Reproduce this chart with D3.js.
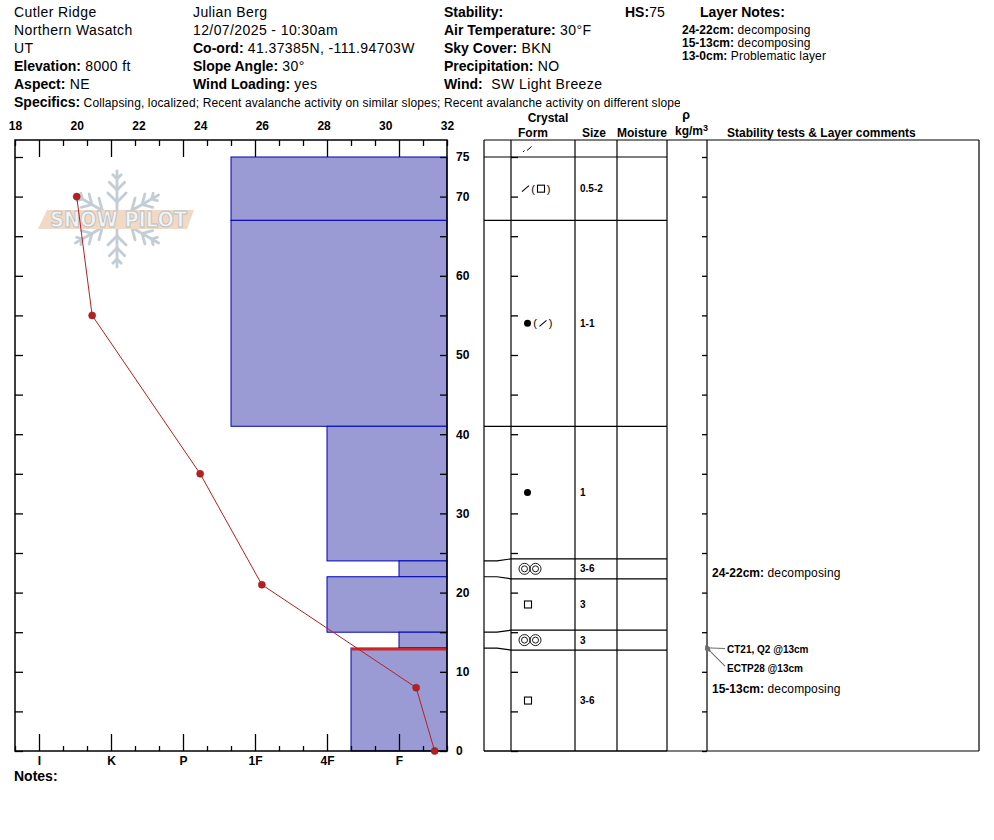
<!DOCTYPE html>
<html>
<head>
<meta charset="utf-8">
<script src="https://cdn.jsdelivr.net/npm/d3@7"></script>
<style>
body { margin: 0; background: #fff; }
svg { font-family: "Liberation Sans", Arial, sans-serif; }
</style>
</head>
<body>
<script>
// ---- data ----
const siteLines = ["Cutler Ridge", "Northern Wasatch", "UT"]
const siteFields = [["Elevation:", " 8000 ft"], ["Aspect:", " NE"]]
const obsLines = ["Julian Berg", "12/07/2025 - 10:30am"]
const obsFields = [["Co-ord:", " 41.37385N, -111.94703W"], ["Slope Angle:", " 30°"], ["Wind Loading:", " yes"]]
const wxFields = [["Stability:", ""], ["Air Temperature:", " 30°F"], ["Sky Cover:", " BKN"], ["Precipitation:", " NO"], ["Wind:", "  SW Light Breeze"]]
const snowHeight = 75
const layerNoteLabels = ["24-22cm:", "15-13cm:", "13-0cm:"]
const layerNoteTexts = [" decomposing", " decomposing", " Problematic layer"]
const specifics = "Collapsing, localized; Recent avalanche activity on similar slopes; Recent avalanche activity on different slopes"

const tempTicks = [18, 20, 22, 24, 26, 28, 30, 32]
const depthLabels = [0, 10, 20, 30, 40, 50, 60, 70, 75]
const hardnessGrades = ["F-", "F", "F+", "4F-", "4F", "4F+", "1F-", "1F", "1F+", "P-", "P", "P+", "K-", "K", "K+", "I-", "I", "I+"]
const hardnessLabels = ["F", "4F", "1F", "P", "K", "I"]

const tempDepth = [70, 55, 35, 21, 8, 0]
const tempValue = [20, 20.5, 24, 26, 31, 31.6]

const layerTop = [75, 67, 41, 24, 22, 15, 13]
const layerBottom = [67, 41, 24, 22, 15, 13, 0]
const layerHardness = ["1F+", "1F+", "4F", "F", "4F", "F", "4F-"]
const layerForm = ["DF", "RG", "RG", "MF", "FC", "MF", "FC"]
const layerForm2 = ["FC", "DF", "", "", "", "", ""]
const layerSize = ["0.5-2", "1-1", "1", "3-6", "3", "3", "3-6"]
const problemDepth = 13

const commentLayer = [3, 5]
const commentLabels = ["24-22cm:", "15-13cm:"]
const commentTexts = [" decomposing", " decomposing"]
const testNames = ["CT21, Q2 @13cm", "ECTP28 @13cm"]
const testDepth = [13, 13]

// ---- scales ----
const tempX = d3.scaleLinear().domain([18, 32]).range([15, 447])
const hardX = d3.scaleLinear().domain([0, hardnessGrades.length]).range([447, 15])
const depthY = d3.scaleLinear().domain([0, 75]).range([751, 157])
const gradeX = g => hardX(hardnessGrades.indexOf(g) + 1)
const plotTop = 140, plotBottom = depthY(0), plotLeft = tempX(18), plotRight = tempX(32)

const svg = d3.select("body").append("svg").attr("width", 994).attr("height", 840)
svg.append("rect").attr("width", 994).attr("height", 840).attr("fill", "#fff")

// ---- header ----
function field(x, y, label, value, size, spacing) {
    const t = svg.append("text").attr("x", x).attr("y", y).attr("font-size", size).style("white-space", "pre")
    if (label) t.append("tspan").attr("font-weight", "bold").text(label)
    t.append("tspan").attr("letter-spacing", spacing || 0).text(value)
    return t
}
const rowY = i => 17 + i * 18
siteLines.forEach((s, i) => field(14, rowY(i), "", s, 14, 0.4))
siteFields.forEach((f, i) => field(14, rowY(i + 3), f[0], f[1], 14, 0.4))
obsLines.forEach((s, i) => field(193, rowY(i), "", s, 14, 0.4))
obsFields.forEach((f, i) => field(193, rowY(i + 2), f[0], f[1], 14, 0.4))
wxFields.forEach((f, i) => field(444, rowY(i), f[0], f[1], 14, 0.4))
field(625, rowY(0), "HS:", String(snowHeight), 14)
field(700, rowY(0), "Layer Notes:", "", 14)
layerNoteLabels.forEach((l, i) => field(682, 34 + i * 13, l, layerNoteTexts[i], 12, 0.15))

svg.append("clipPath").attr("id", "specClip").append("rect").attr("x", 0).attr("y", 90).attr("width", 680).attr("height", 25)
const spec = svg.append("text").attr("x", 14).attr("y", 107).attr("clip-path", "url(#specClip)").style("white-space", "pre")
spec.append("tspan").attr("font-weight", "bold").attr("font-size", 14).text("Specifics:")
spec.append("tspan").attr("font-size", 12).attr("letter-spacing", 0.13).text(" " + specifics)

// ---- watermark ----
const wm = svg.append("g")
const flake = wm.append("g").attr("transform", "translate(117,219)")
    .attr("stroke", "#c3cdd5").attr("stroke-width", 2.8).attr("fill", "none").attr("stroke-linecap", "round")
d3.range(6).forEach(k => {
    const arm = flake.append("g").attr("transform", `rotate(${k * 60 - 90})`)
    arm.append("line").attr("x1", 4).attr("y1", 0).attr("x2", 48).attr("y2", 0)
    ;[[17, 13], [29, 11], [40, 6]].forEach(([d, l]) => {
        arm.append("path").attr("d", `M${d + l * 0.7},${-l * 0.7}L${d},0L${d + l * 0.7},${l * 0.7}`)
    })
})
wm.append("polygon").attr("points", "47,210 194,210 187,229 38,229").attr("fill", "#f0d9c5")
wm.append("text").attr("x", 50).attr("y", 227).attr("font-size", 21).attr("font-weight", "bold")
    .attr("font-family", "DejaVu Sans").attr("textLength", 137).attr("lengthAdjust", "spacingAndGlyphs")
    .attr("fill", "#f3f3f3").attr("stroke", "#b9bfc5").attr("stroke-width", 0.9).text("SNOW PILOT")

// ---- hardness bars ----
const plot = svg.append("g")
plot.selectAll("rect.layer").data(layerTop).join("rect").attr("class", "layer")
    .attr("x", (d, i) => gradeX(layerHardness[i]))
    .attr("y", d => depthY(d))
    .attr("width", (d, i) => plotRight - gradeX(layerHardness[i]))
    .attr("height", (d, i) => depthY(layerBottom[i]) - depthY(d))
    .attr("fill", "#9a9ad4").attr("stroke", "#0000b4").attr("stroke-width", 1)

const probIdx = layerTop.indexOf(problemDepth)
plot.append("line").attr("x1", gradeX(layerHardness[probIdx])).attr("x2", plotRight)
    .attr("y1", depthY(problemDepth) + 1.2).attr("y2", depthY(problemDepth) + 1.2)
    .attr("stroke", "#c82828").attr("stroke-width", 2.5)

// ---- frame and axes ----
svg.append("rect").attr("x", plotLeft).attr("y", plotTop).attr("width", plotRight - plotLeft)
    .attr("height", plotBottom - plotTop).attr("fill", "none").attr("stroke", "#000").attr("stroke-width", 1.5)

function styleAxis(g, size) {
    g.attr("font-family", null).attr("font-size", null)
    g.select(".domain").remove()
    g.selectAll("line").attr("stroke", "#000").attr("stroke-width", 1.3)
    g.selectAll("text").attr("fill", "#000").attr("font-size", size).attr("font-weight", "bold")
}
const gradePos = d3.range(0, hardnessGrades.length + 1)
const isMajor = i => i > 0 && hardnessLabels.includes(hardnessGrades[i - 1])

svg.append("g").attr("transform", `translate(0,${plotTop})`)
    .call(d3.axisTop(tempX).tickValues(tempTicks).tickSize(0).tickPadding(10)).call(g => styleAxis(g, 12))
svg.append("g").attr("transform", `translate(0,${plotTop})`)
    .call(d3.axisTop(hardX).tickValues(gradePos.filter(i => !isMajor(i))).tickSizeInner(-6).tickSizeOuter(0).tickFormat(""))
    .call(g => styleAxis(g, 12))
svg.append("g").attr("transform", `translate(0,${plotTop})`)
    .call(d3.axisTop(hardX).tickValues(gradePos.filter(isMajor)).tickSizeInner(-17).tickSizeOuter(0).tickFormat(""))
    .call(g => styleAxis(g, 12))
svg.append("g").attr("transform", `translate(0,${plotBottom})`)
    .call(d3.axisBottom(hardX).tickValues(gradePos.filter(i => !isMajor(i))).tickSizeInner(-5).tickSizeOuter(0).tickFormat(""))
    .call(g => styleAxis(g, 12))
svg.append("g").attr("transform", `translate(0,${plotBottom})`)
    .call(d3.axisBottom(hardX).tickValues(gradePos.filter(isMajor)).tickSizeInner(-17).tickSizeOuter(0).tickPadding(5)
        .tickFormat(i => hardnessGrades[i - 1]))
    .call(g => styleAxis(g, 12))

const depthTicks = d3.range(0, 80, 5)
svg.append("g").attr("transform", `translate(${plotLeft},0)`)
    .call(d3.axisLeft(depthY).tickValues(depthTicks).tickSizeInner(-8).tickSizeOuter(0).tickFormat(""))
    .call(g => styleAxis(g, 12))
svg.append("g").attr("transform", `translate(${plotRight},0)`)
    .call(d3.axisRight(depthY).tickValues(depthTicks).tickSizeInner(-7).tickSizeOuter(0).tickFormat(""))
    .call(g => styleAxis(g, 12))
svg.append("g").attr("transform", `translate(${plotRight},0)`)
    .call(d3.axisRight(depthY).tickValues(depthLabels).tickSize(0).tickPadding(9))
    .call(g => styleAxis(g, 12))

// ---- temperature profile ----
const tempLine = d3.line().x((d, i) => tempX(tempValue[i])).y(d => depthY(d))
svg.append("path").datum(tempDepth).attr("d", tempLine).attr("fill", "none").attr("stroke", "#b22222").attr("stroke-width", 1)
svg.selectAll("circle.temp").data(tempDepth).join("circle").attr("class", "temp")
    .attr("cx", (d, i) => tempX(tempValue[i])).attr("cy", d => depthY(d)).attr("r", 3.5)
    .attr("fill", "#b22222").attr("stroke", "#a01818").attr("stroke-width", 0.6)

svg.append("text").attr("x", 14).attr("y", 781).attr("font-size", 14).attr("font-weight", "bold").text("Notes:")

// ---- layer table ----
const colX = [484, 511, 575, 617, 667, 707, 979]
const tbl = svg.append("g")
const minRow = 20
const n = layerTop.length
const thin = i => depthY(layerBottom[i]) - depthY(layerTop[i]) < minRow
const mid = i => (depthY(layerTop[i]) + depthY(layerBottom[i])) / 2
const bounds = d3.range(n + 1).map(k => {
    if (k === 0) return thin(0) ? mid(0) - minRow / 2 : depthY(layerTop[0])
    if (k === n) return thin(n - 1) ? mid(n - 1) + minRow / 2 : depthY(0)
    if (thin(k - 1)) return mid(k - 1) + minRow / 2
    if (thin(k)) return mid(k) - minRow / 2
    return depthY(layerTop[k])
})
const boundDepth = layerTop.concat([0])

tbl.append("line").attr("x1", colX[0]).attr("x2", colX[6]).attr("y1", plotTop).attr("y2", plotTop)
tbl.append("line").attr("x1", colX[0]).attr("x2", colX[6]).attr("y1", plotBottom).attr("y2", plotBottom)
tbl.selectAll("line.col").data(colX).join("line").attr("class", "col")
    .attr("x1", d => d).attr("x2", d => d).attr("y1", plotTop).attr("y2", plotBottom)
tbl.selectAll("path.row").data(bounds).join("path").attr("class", "row")
    .attr("d", (b, k) => `M${colX[0]},${depthY(boundDepth[k])}L${colX[0] + 13},${depthY(boundDepth[k])}L${colX[1]},${b}L${colX[4]},${b}`)
    .attr("fill", "none")
tbl.selectAll("line, path").attr("stroke", "#000").attr("stroke-width", 1.2)

tbl.append("g").attr("transform", `translate(${colX[1]},0)`)
    .call(d3.axisLeft(depthY).tickValues(depthTicks).tickSizeInner(-7).tickSizeOuter(0).tickFormat(""))
    .call(g => styleAxis(g, 12))
tbl.append("g").attr("transform", `translate(${colX[5]},0)`)
    .call(d3.axisRight(depthY).tickValues(depthTicks).tickSizeInner(-5).tickSizeOuter(0).tickFormat(""))
    .call(g => styleAxis(g, 12))

// column headers
const hdr = (x, y, s, size, anchor) => svg.append("text").attr("x", x).attr("y", y).attr("font-size", size)
    .attr("font-weight", "bold").attr("text-anchor", anchor || "start").text(s)
hdr(548, 122, "Crystal", 12, "middle")
hdr(533, 137, "Form", 12, "middle")
hdr(594, 137, "Size", 12, "middle")
hdr(642, 137, "Moisture", 12, "middle")
hdr(686, 119, "ρ", 12.5, "middle")
const kg = hdr(675, 135, "kg/m", 12)
kg.append("tspan").attr("font-size", 9).attr("dy", -4).text("3")
hdr(727, 137, "Stability tests & Layer comments", 12)

// grain symbols
function grain(g, code, cx, cy) {
    if (code === "RG") g.append("circle").attr("cx", cx).attr("cy", cy).attr("r", 3.5).attr("fill", "#000")
    if (code === "FC") g.append("rect").attr("x", cx - 3.5).attr("y", cy - 3.5).attr("width", 7).attr("height", 7)
        .attr("fill", "none").attr("stroke", "#000").attr("stroke-width", 1.1)
    if (code === "DF") g.append("line").attr("x1", cx - 3.5).attr("y1", cy + 3).attr("x2", cx + 3.5).attr("y2", cy - 3)
        .attr("stroke", "#000").attr("stroke-width", 1.1)
    if (code === "MF") {
        ;[cx - 3.5, cx + 7.5].forEach(x => {
            g.append("circle").attr("cx", x).attr("cy", cy).attr("r", 5.5).attr("fill", "none").attr("stroke", "#000").attr("stroke-width", 0.9)
            g.append("circle").attr("cx", x).attr("cy", cy).attr("r", 3).attr("fill", "none").attr("stroke", "#000").attr("stroke-width", 0.9)
        })
    }
}
const formX = { DF: 525.5, RG: 527.5, FC: 528, MF: 528 }
const sym = svg.append("g")
layerForm.forEach((f, i) => {
    const cy = (bounds[i] + bounds[i + 1]) / 2
    const px = formX[f]
    grain(sym, f, px, cy)
    if (layerForm2[i]) {
        sym.append("text").attr("x", px + 7.5).attr("y", cy + 4).attr("font-size", 11).attr("text-anchor", "middle").text("(")
        grain(sym, layerForm2[i], px + 15.5, cy)
        sym.append("text").attr("x", px + 23).attr("y", cy + 4).attr("font-size", 11).attr("text-anchor", "middle").text(")")
    }
    sym.append("text").attr("x", 580).attr("y", cy + 3.5).attr("font-size", 10).attr("font-weight", "bold").text(layerSize[i])
})
// surface mark above the top layer
sym.append("line").attr("x1", 523).attr("y1", 152).attr("x2", 524.5).attr("y2", 150.5).attr("stroke", "#000")
sym.append("line").attr("x1", 527).attr("y1", 150.5).attr("x2", 531.5).attr("y2", 146.5).attr("stroke", "#000")

// stability tests and comments
const defs = svg.append("defs")
defs.append("marker").attr("id", "arr").attr("viewBox", "0 0 10 10").attr("refX", 1).attr("refY", 5)
    .attr("markerWidth", 6).attr("markerHeight", 6).attr("orient", "auto")
    .append("path").attr("d", "M10,1L0,5L10,9Z").attr("fill", "#6e6e6e")
let lastY = 0
testNames.forEach((t, i) => {
    const ty = depthY(testDepth[i]) + 4.5 + i * 19.5
    svg.append("text").attr("x", 727).attr("y", ty).attr("font-size", 10).attr("font-weight", "bold").text(t)
    const sy = i === 0 ? ty - 4 : ty - 6
    svg.append("line").attr("x1", 725).attr("y1", sy).attr("x2", 711).attr("y2", depthY(testDepth[i]) + i * 4)
        .attr("stroke", "#6e6e6e").attr("stroke-width", 1.1).attr("marker-end", "url(#arr)")
    lastY = ty
})
commentLayer.forEach((li, i) => {
    const cy = (bounds[li] + bounds[li + 1]) / 2 + 8.5
    const y = depthY(layerBottom[li]) < depthY(testDepth[0]) ? cy : Math.max(cy, lastY + 21)
    field(712, y, commentLabels[i], commentTexts[i], 12, 0.15)
})
</script>
</body>
</html>
